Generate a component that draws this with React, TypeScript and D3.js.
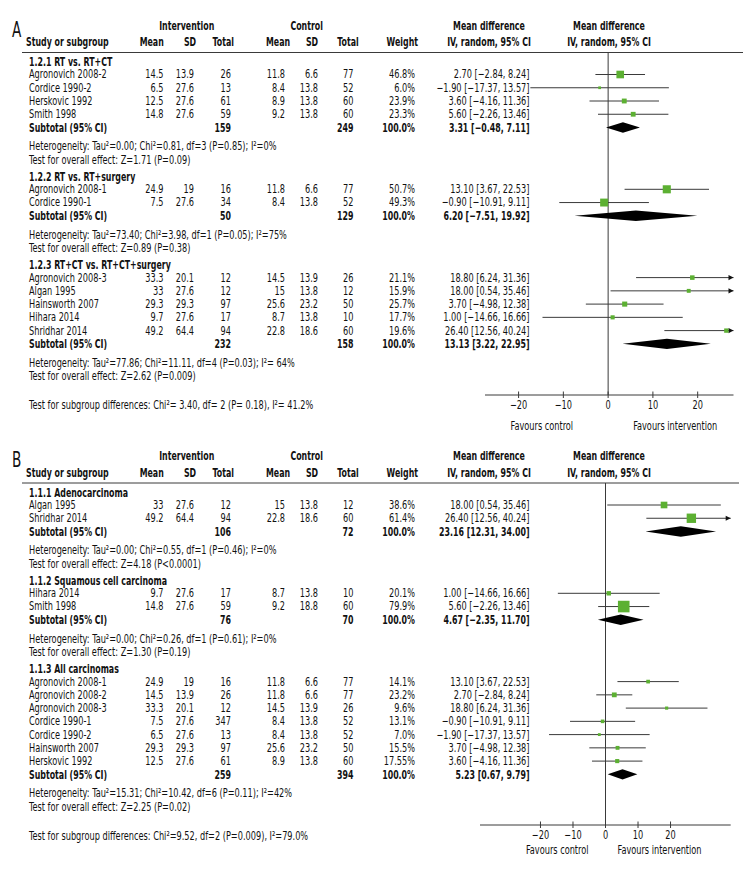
import React from "react";
import * as d3 from "d3";

// ---------------- Panel A data ----------------
const subgroupsA = ["1.2.1 RT vs. RT+CT", "1.2.2 RT vs. RT+surgery", "1.2.3 RT+CT vs. RT+CT+surgery"];
const studyGroupA = [0, 0, 0, 0, 1, 1, 2, 2, 2, 2, 2];
const studiesA = ["Agronovich 2008-2", "Cordice 1990-2", "Herskovic 1992", "Smith 1998", "Agronovich 2008-1", "Cordice 1990-1", "Agronovich 2008-3", "Algan 1995", "Hainsworth 2007", "Hihara 2014", "Shridhar 2014"];
const intMeanA = [14.5, 6.5, 12.5, 14.8, 24.9, 7.5, 33.3, 33, 29.3, 9.7, 49.2];
const intSdA = [13.9, 27.6, 27.6, 27.6, 19, 27.6, 20.1, 27.6, 29.3, 27.6, 64.4];
const intTotalA = [26, 13, 61, 59, 16, 34, 12, 12, 97, 17, 94];
const ctlMeanA = [11.8, 8.4, 8.9, 9.2, 11.8, 8.4, 14.5, 15, 25.6, 8.7, 22.8];
const ctlSdA = [6.6, 13.8, 13.8, 13.8, 6.6, 13.8, 13.9, 13.8, 23.2, 13.8, 18.6];
const ctlTotalA = [77, 52, 60, 60, 77, 52, 26, 12, 50, 10, 60];
const weightA = ["46.8", "6.0", "23.9", "23.3", "50.7", "49.3", "21.1", "15.9", "25.7", "17.7", "19.6"];
const mdA = [2.7, -1.9, 3.6, 5.6, 13.1, -0.9, 18.8, 18.0, 3.7, 1.0, 26.4];
const loA = [-2.84, -17.37, -4.16, -2.26, 3.67, -10.91, 6.24, 0.54, -4.98, -14.66, 12.56];
const hiA = [8.24, 13.57, 11.36, 13.46, 22.53, 9.11, 31.36, 35.46, 12.38, 16.66, 40.24];
const subIntTotalA = [159, 50, 232];
const subCtlTotalA = [249, 129, 158];
const subMdA = [3.31, 6.2, 13.13];
const subLoA = [-0.48, -7.51, 3.22];
const subHiA = [7.11, 19.92, 22.95];
const heteroA = [
  "Heterogeneity: Tau²=0.00; Chi²=0.81, df=3 (P=0.85); I²=0%",
  "Heterogeneity: Tau²=73.40; Chi²=3.98, df=1 (P=0.05); I²=75%",
  "Heterogeneity: Tau²=77.86; Chi²=11.11, df=4 (P=0.03); I²= 64%",
];
const overallA = [
  "Test for overall effect: Z=1.71 (P=0.09)",
  "Test for overall effect: Z=0.89 (P=0.38)",
  "Test for overall effect: Z=2.62 (P=0.009)",
];
const subgroupTestA = "Test for subgroup differences: Chi²= 3.40, df= 2 (P= 0.18), I²= 41.2%";
const domainA = [-27.5, 28];

// ---------------- Panel B data ----------------
const subgroupsB = ["1.1.1 Adenocarcinoma", "1.1.2 Squamous cell carcinoma", "1.1.3 All carcinomas"];
const studyGroupB = [0, 0, 1, 1, 2, 2, 2, 2, 2, 2, 2];
const studiesB = ["Algan 1995", "Shridhar 2014", "Hihara 2014", "Smith 1998", "Agronovich 2008-1", "Agronovich 2008-2", "Agronovich 2008-3", "Cordice 1990-1", "Cordice 1990-2", "Hainsworth 2007", "Herskovic 1992"];
const intMeanB = [33, 49.2, 9.7, 14.8, 24.9, 14.5, 33.3, 7.5, 6.5, 29.3, 12.5];
const intSdB = [27.6, 64.4, 27.6, 27.6, 19, 13.9, 20.1, 27.6, 27.6, 29.3, 27.6];
const intTotalB = [12, 94, 17, 59, 16, 26, 12, 347, 13, 97, 61];
const ctlMeanB = [15, 22.8, 8.7, 9.2, 11.8, 11.8, 14.5, 8.4, 8.4, 25.6, 8.9];
const ctlSdB = [13.8, 18.6, 13.8, 18.8, 6.6, 6.6, 13.9, 13.8, 13.8, 23.2, 13.8];
const ctlTotalB = [12, 60, 10, 60, 77, 77, 26, 52, 52, 50, 60];
const weightB = ["38.6", "61.4", "20.1", "79.9", "14.1", "23.2", "9.6", "13.1", "7.0", "15.5", "17.55"];
const mdB = [18.0, 26.4, 1.0, 5.6, 13.1, 2.7, 18.8, -0.9, -1.9, 3.7, 3.6];
const loB = [0.54, 12.56, -14.66, -2.26, 3.67, -2.84, 6.24, -10.91, -17.37, -4.98, -4.16];
const hiB = [35.46, 40.24, 16.66, 13.46, 22.53, 8.24, 31.36, 9.11, 13.57, 12.38, 11.36];
const subIntTotalB = [106, 76, 259];
const subCtlTotalB = [72, 70, 394];
const subMdB = [23.16, 4.67, 5.23];
const subLoB = [12.31, -2.35, 0.67];
const subHiB = [34.0, 11.7, 9.79];
const heteroB = [
  "Heterogeneity: Tau²=0.00; Chi²=0.55, df=1 (P=0.46); I²=0%",
  "Heterogeneity: Tau²=0.00; Chi²=0.26, df=1 (P=0.61); I²=0%",
  "Heterogeneity: Tau²=15.31; Chi²=10.42, df=6 (P=0.11); I²=42%",
];
const overallB = [
  "Test for overall effect: Z=4.18 (P<0.0001)",
  "Test for overall effect: Z=1.30 (P=0.19)",
  "Test for overall effect: Z=2.25 (P=0.02)",
];
const subgroupTestB = "Test for subgroup differences: Chi²=9.52, df=2 (P=0.009), I²=79.0%";
const domainB = [-38.6, 38.5];

const tickValues = [-20, -10, 0, 10, 20];

// ---------------- styling ----------------
const FONT = "'DejaVu Sans Condensed', 'DejaVu Sans', sans-serif";
const FS = 12;
const GREEN = "#5cb032";
const LINE = "#3a3a3a";

const fmt = (v: number) => v.toFixed(2).replace("-", "\u2212");
const ciLabel = (m: number, l: number, h: number) => `${fmt(m)} [${fmt(l)}, ${fmt(h)}]`;

const COL = {
  name: 29,
  intMean: 163.5,
  intSd: 194,
  intTotal: 231,
  ctlMean: 285,
  ctlSd: 318,
  ctlTotal: 353.5,
  weight: 415,
  ci: 529.5,
};

const sizeScale = d3.scaleLinear().domain([0, 100]).range([2, 14]);

function T({ x, y, anchor = "start", bold = false, size = FS, children }: any) {
  const sx = bold ? 0.73 : 0.76;
  return (
    <text
      transform={`translate(${x},${y}) scale(${sx},1)`}
      textAnchor={anchor}
      fontFamily={FONT}
      fontSize={size}
      fontWeight={bold ? "bold" : "normal"}
      dominantBaseline="central"
      fill="#111"
    >
      {children}
    </text>
  );
}

type PanelProps = {
  letter: string;
  top: number;
  d: any;
  domain: number[];
  xRange: number[];
  axisY: number;
  favOffsets: number[];
  lineEnd: number;
};

function Panel({ letter, top, d, domain, xRange, axisY, favOffsets, lineEnd }: PanelProps) {
  const x = d3.scaleLinear().domain(domain).range(xRange);
  const [dmin, dmax] = domain;
  const headY2 = top + 16.7;
  const ruleY = top + 27.5;
  const pitch = 13.25;

  const rows: any[] = [];
  let y = ruleY + 9.2;
  d.subgroups.forEach((sg: string, g: number) => {
    rows.push({ type: "title", y, g });
    y += 12.8;
    d.studies.forEach((s: string, i: number) => {
      if (d.group[i] !== g) return;
      rows.push({ type: "study", y, i });
      y += pitch;
    });
    rows.push({ type: "subtotal", y, g });
    y += 19;
    rows.push({ type: "het", y, g });
    y += 13.3;
    rows.push({ type: "overall", y, g });
    y += 16.7;
  });
  const lastY = y - 16.7;
  const subTestY = lastY + 29;
  const x0 = x(0);

  return (
    <g>
      <text transform={`translate(12,${top + 11.5}) scale(0.72,1)`} fontFamily={FONT} fontSize={21} fill="#111">{letter}</text>
      <T x={186.7} y={top} anchor="middle" bold>Intervention</T>
      <T x={306.7} y={top} anchor="middle" bold>Control</T>
      <T x={489} y={top} anchor="middle" bold>Mean difference</T>
      <T x={609} y={top} anchor="middle" bold>Mean difference</T>
      <T x={26} y={headY2} bold>Study or subgroup</T>
      <T x={151.7} y={headY2} anchor="middle" bold>Mean</T>
      <T x={190} y={headY2} anchor="middle" bold>SD</T>
      <T x={223.3} y={headY2} anchor="middle" bold>Total</T>
      <T x={278} y={headY2} anchor="middle" bold>Mean</T>
      <T x={312} y={headY2} anchor="middle" bold>SD</T>
      <T x={348} y={headY2} anchor="middle" bold>Total</T>
      <T x={402.3} y={headY2} anchor="middle" bold>Weight</T>
      <T x={489} y={headY2} anchor="middle" bold>IV, random, 95% CI</T>
      <T x={609} y={headY2} anchor="middle" bold>IV, random, 95% CI</T>
      <line x1={22} x2={lineEnd} y1={ruleY} y2={ruleY} stroke={LINE} strokeWidth={1} />

      <line x1={x0} x2={x0} y1={ruleY} y2={axisY} stroke={LINE} strokeWidth={1} />

      {rows.map((r, k) => {
        if (r.type === "title") {
          return <T key={k} x={COL.name} y={r.y} bold>{d.subgroups[r.g]}</T>;
        }
        if (r.type === "study") {
          const i = r.i;
          const lo = Math.max(d.lo[i], dmin);
          const hi = Math.min(d.hi[i], dmax);
          const s = sizeScale(parseFloat(d.weight[i]));
          const arrow = d.hi[i] > dmax;
          return (
            <g key={k}>
              <T x={COL.name} y={r.y}>{d.studies[i]}</T>
              <T x={COL.intMean} y={r.y} anchor="end">{d.intMean[i]}</T>
              <T x={COL.intSd} y={r.y} anchor="end">{d.intSd[i]}</T>
              <T x={COL.intTotal} y={r.y} anchor="end">{d.intTotal[i]}</T>
              <T x={COL.ctlMean} y={r.y} anchor="end">{d.ctlMean[i]}</T>
              <T x={COL.ctlSd} y={r.y} anchor="end">{d.ctlSd[i]}</T>
              <T x={COL.ctlTotal} y={r.y} anchor="end">{d.ctlTotal[i]}</T>
              <T x={COL.weight} y={r.y} anchor="end">{d.weight[i] + "%"}</T>
              <T x={COL.ci} y={r.y} anchor="end">{ciLabel(d.md[i], d.lo[i], d.hi[i])}</T>
              <line x1={x(lo)} x2={x(hi)} y1={r.y} y2={r.y} stroke={LINE} strokeWidth={1} />
              {arrow && (
                <path d={`M${x(hi)},${r.y} L${x(hi) - 5},${r.y - 2.6} L${x(hi) - 5},${r.y + 2.6} Z`} fill="#111" />
              )}
              <rect x={x(d.md[i]) - s / 2} y={r.y - s / 2} width={s} height={s} fill={GREEN} />
            </g>
          );
        }
        if (r.type === "subtotal") {
          const g = r.g;
          const xm = x(d.subMd[g]);
          const xl = x(d.subLo[g]);
          const xh = x(d.subHi[g]);
          return (
            <g key={k}>
              <T x={COL.name} y={r.y} bold>Subtotal (95% CI)</T>
              <T x={COL.intTotal} y={r.y} anchor="end" bold>{d.subIntTotal[g]}</T>
              <T x={COL.ctlTotal} y={r.y} anchor="end" bold>{d.subCtlTotal[g]}</T>
              <T x={COL.weight} y={r.y} anchor="end" bold>100.0%</T>
              <T x={COL.ci} y={r.y} anchor="end" bold>{ciLabel(d.subMd[g], d.subLo[g], d.subHi[g])}</T>
              <path d={`M${xl},${r.y} L${xm},${r.y - 5.2} L${xh},${r.y} L${xm},${r.y + 5.2} Z`} fill="#000" />
            </g>
          );
        }
        if (r.type === "het") {
          return <T key={k} x={COL.name} y={r.y}>{d.hetero[r.g]}</T>;
        }
        return <T key={k} x={COL.name} y={r.y}>{d.overall[r.g]}</T>;
      })}

      <T x={COL.name} y={subTestY}>{d.subgroupTest}</T>

      <line x1={xRange[0]} x2={xRange[1]} y1={axisY} y2={axisY} stroke={LINE} strokeWidth={1} />
      {tickValues.map((t) => (
        <g key={t}>
          <line x1={x(t)} x2={x(t)} y1={axisY - 3.5} y2={axisY + 3} stroke={LINE} strokeWidth={1} />
          <T x={x(t)} y={axisY + 10.5} anchor="middle">{t < 0 ? "\u2212" + Math.abs(t) : String(t)}</T>
        </g>
      ))}
      <T x={x0 + favOffsets[0]} y={axisY + favOffsets[2]} anchor="end">Favours control</T>
      <T x={x0 + favOffsets[1]} y={axisY + favOffsets[2]} anchor="start">Favours intervention</T>
    </g>
  );
}

const dataA = {
  subgroups: subgroupsA, group: studyGroupA, studies: studiesA,
  intMean: intMeanA, intSd: intSdA, intTotal: intTotalA,
  ctlMean: ctlMeanA, ctlSd: ctlSdA, ctlTotal: ctlTotalA,
  weight: weightA, md: mdA, lo: loA, hi: hiA,
  subIntTotal: subIntTotalA, subCtlTotal: subCtlTotalA,
  subMd: subMdA, subLo: subLoA, subHi: subHiA,
  hetero: heteroA, overall: overallA, subgroupTest: subgroupTestA,
};
const dataB = {
  subgroups: subgroupsB, group: studyGroupB, studies: studiesB,
  intMean: intMeanB, intSd: intSdB, intTotal: intTotalB,
  ctlMean: ctlMeanB, ctlSd: ctlSdB, ctlTotal: ctlTotalB,
  weight: weightB, md: mdB, lo: loB, hi: hiB,
  subIntTotal: subIntTotalB, subCtlTotal: subCtlTotalB,
  subMd: subMdB, subLo: subLoB, subHi: subHiB,
  hetero: heteroB, overall: overallB, subgroupTest: subgroupTestB,
};

export default function App() {
  return (
    <svg
      width={756}
      height={876}
      style={{ position: "absolute", left: 0, top: 0, background: "#fff" }}
    >
      <rect width={756} height={876} fill="#fff" />
      <Panel letter="A" top={25} d={dataA} domain={domainA} xRange={[485, 733.5]} axisY={395} favOffsets={[-35, 25, 31.5]} lineEnd={743} />
      <Panel letter="B" top={455.5} d={dataB} domain={domainB} xRange={[480, 730.7]} axisY={825} favOffsets={[-17, 12, 25]} lineEnd={739} />
    </svg>
  );
}
